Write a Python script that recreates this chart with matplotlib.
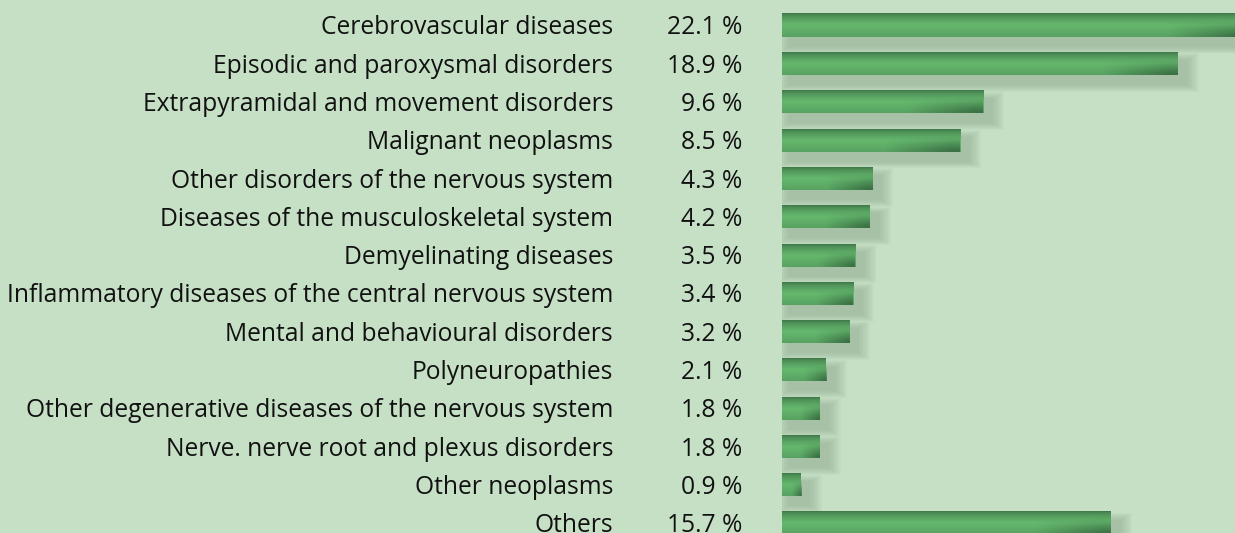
import numpy as np
import matplotlib.pyplot as plt
from matplotlib.patches import Rectangle

# Data
categories = ['Cerebrovascular diseases', 'Episodic and paroxysmal disorders',
              'Extrapyramidal and movement disorders', 'Malignant neoplasms',
              'Other disorders of the nervous system', 'Diseases of the musculoskeletal system',
              'Demyelinating diseases', 'Inflammatory diseases of the central nervous system',
              'Mental and behavioural disorders', 'Polyneuropathies',
              'Other degenerative diseases of the nervous system',
              'Nerve. nerve root and plexus disorders', 'Other neoplasms', 'Others']
shares = [22.1, 18.9, 9.6, 8.5, 4.3, 4.2, 3.5, 3.4, 3.2, 2.1, 1.8, 1.8, 0.9, 15.7]

bg = '#c6e0c6'
plt.rcParams['font.family'] = ['Open Sans', 'DejaVu Sans']

W, H = 1235, 533
fig = plt.figure(figsize=(W / 100, H / 100), dpi=100, facecolor=bg)

# layout in pixels
x0 = 782            # bar start
ppu = 20.95         # pixels per percent
row0 = 25.3         # first row centre
step = 38.3         # row spacing
ax = fig.add_axes([x0 / W, 0, (W - x0) / W, 1])
ax.set_facecolor(bg)
ax.axis('off')

px = 1 / ppu
py = 1 / step
bh = 23 * py

# vertical gradient for the bars (top dark, light band, darker bottom)
n = 60
dark = np.array([0x3c, 0x73, 0x47]) / 255
light = np.array([0x66, 0xb8, 0x6e]) / 255
mid = np.array([0x57, 0xa2, 0x61]) / 255
grad = np.zeros((n, 1, 3))
for i, tt in enumerate(np.linspace(0, 1, n)):
    if tt < 0.5:
        c = dark + (light - dark) * (tt / 0.5) ** 0.6
    else:
        c = light + (mid - light) * ((tt - 0.5) / 0.5)
    grad[i, 0] = c

# dark overlay for the lower right end of each bar
ov = np.zeros((n, n, 4))
ov[..., :3] = dark * 0.85
hx = np.linspace(0, 1, n)[None, :]
vy = np.linspace(0, 1, n)[:, None]
ov[..., 3] = 0.75 * np.clip(hx * 1.3 - 0.2, 0, 1) * np.clip(vy * 1.6 - 0.5, 0, 1)

for i, v in enumerate(shares):
    y = i - bh / 2
    # soft shadow
    for k in range(8):
        grow = (8 - k) * 1.6
        ax.add_patch(Rectangle((8 * px - grow * px, y + 9 * py - grow * py * 0.6),
                               v + 2 * grow * px, bh + 2 * grow * py * 0.6,
                               facecolor='#8aa489', edgecolor='none', alpha=0.08, zorder=1))
    ax.imshow(grad, extent=(0, v, y + bh, y), aspect='auto', zorder=2,
              interpolation='bilinear')
    ow = min(90 * px, v * 0.6)
    ax.imshow(ov, extent=(v - ow, v, y + bh, y), aspect='auto', zorder=3,
              interpolation='bilinear')
    ty = i + 2.5 * py
    ax.text(-(x0 - 613) * px, ty, categories[i], ha='right', va='center',
            fontsize=17.7, color='#111111', clip_on=False)
    ax.text(-(x0 - 742) * px, ty, f'{v:.1f} %', ha='right', va='center',
            fontsize=17.7, color='#111111', clip_on=False)

ax.set_aspect('auto')
ax.set_xlim(0, (W - x0) / ppu)
ax.set_ylim((H - row0) / step, -row0 / step)

fig.savefig('out.png', dpi=100, facecolor=bg)
